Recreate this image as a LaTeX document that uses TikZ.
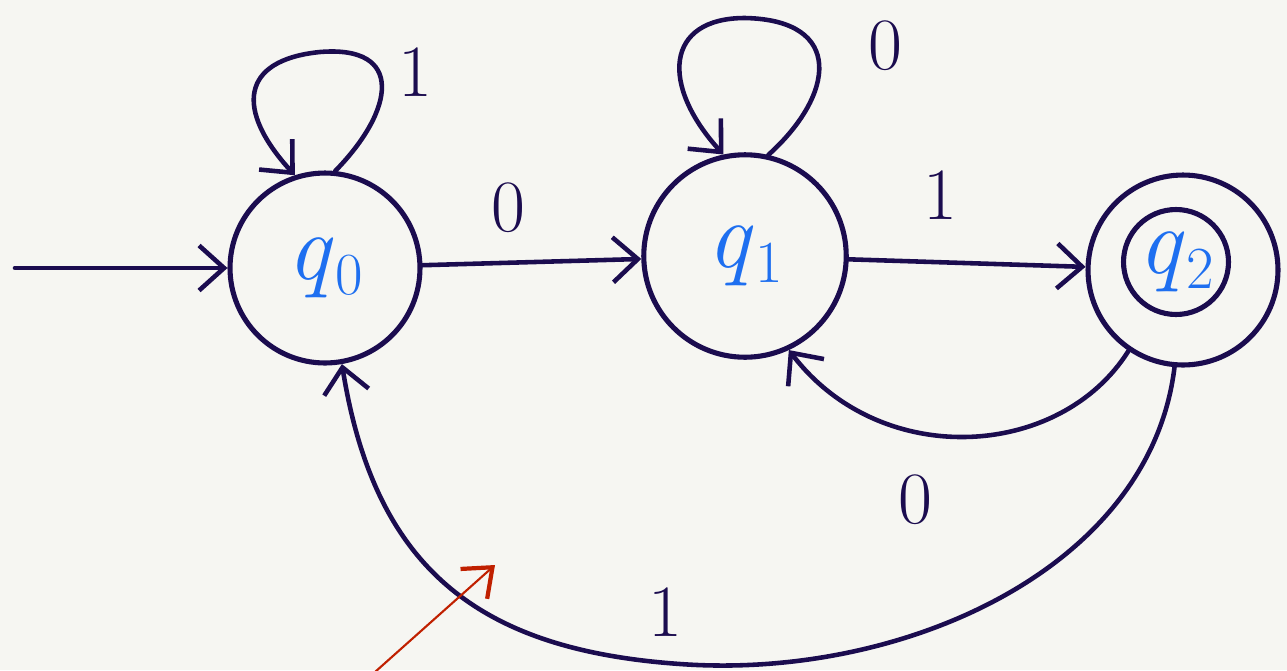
\documentclass[tikz,border=0pt]{standalone}
\usepackage{amsmath}
\usepackage{xcolor}
\usetikzlibrary{calc, positioning}
\usetikzlibrary{arrows.meta}

\definecolor{ink}{HTML}{1B0C4F}
\definecolor{qblue}{HTML}{1E6FF0}
\definecolor{pen}{HTML}{C02000}
\definecolor{paper}{HTML}{F6F6F2}

% state name: italic q with a lowered index
\newcommand{\qname}[1]{\textit{q}\kern1pt\raisebox{-0.35ex}{\fontsize{34}{36}\selectfont #1}}

\begin{document}
\begin{tikzpicture}[x=0.02cm, y=-0.02cm,
    state/.style={circle, draw=ink, line width=2.9pt, inner sep=0pt, text=qblue,
        font=\fontsize{54}{58}\selectfont},
    trans/.style={ink, line width=2.6pt, line cap=round,
        -{Straight Barb[length=5mm,width=9mm]}},
    lbl/.style={ink, font=\fontsize{42}{46}\selectfont}]
% Paper
\fill[paper] (0,0) rectangle (1287,670);
\useasboundingbox (0,0) rectangle (1287,670);

% States
\node[state, minimum size=3.8cm] (q0) at (325,268) {\qname{0}};
\node[state, minimum size=4.05cm] (q1) at (745,256) {\qname{1}};
\node[state, minimum size=3.8cm] (q2) at (1183,270) {};
\node[state, minimum size=2.1cm] (q2in) at (1176,262) {\qname{2}};

% Start arrow
\coordinate (start) at (15,268);
\draw[trans] (start) -- (q0);

% Straight transitions
\draw[trans] (q0) -- (q1);
\draw[trans] (q1) -- (q2);

% Self loops
\draw[trans] (q0.84) .. controls (395,110) and (405,45) .. (320,52)
    .. controls (240,60) and (235,110) .. (q0.108);
\draw[trans] (q1.77) .. controls (835,95) and (845,20) .. (745,18)
    .. controls (665,18) and (660,85) .. (q1.102);

% Back transitions
\draw[trans] (q2.236) .. controls (1060,460) and (880,470) .. (q1.295);
\draw[trans] (q2.265) .. controls (1150,570) and (900,680) .. (680,664)
    .. controls (480,650) and (375,570) .. (q0.280);

% Labels
\node[lbl] (l00) at (415,72) {1};
\node[lbl] (l01) at (508,208) {0};
\node[lbl] (l11) at (885,46) {0};
\node[lbl] (l12) at (940,195) {1};
\node[lbl] (l21) at (915,500) {0};
\node[lbl] (l20) at (665,612) {1};

% Red pointer
\coordinate (ptrA) at (375,672);
\coordinate (ptrB) at (495,565);
\draw[pen, line width=1.2pt, -{Straight Barb[length=5mm,width=8mm,line width=2.4pt]}]
    (ptrA) -- (ptrB);
\end{tikzpicture}
\end{document}
